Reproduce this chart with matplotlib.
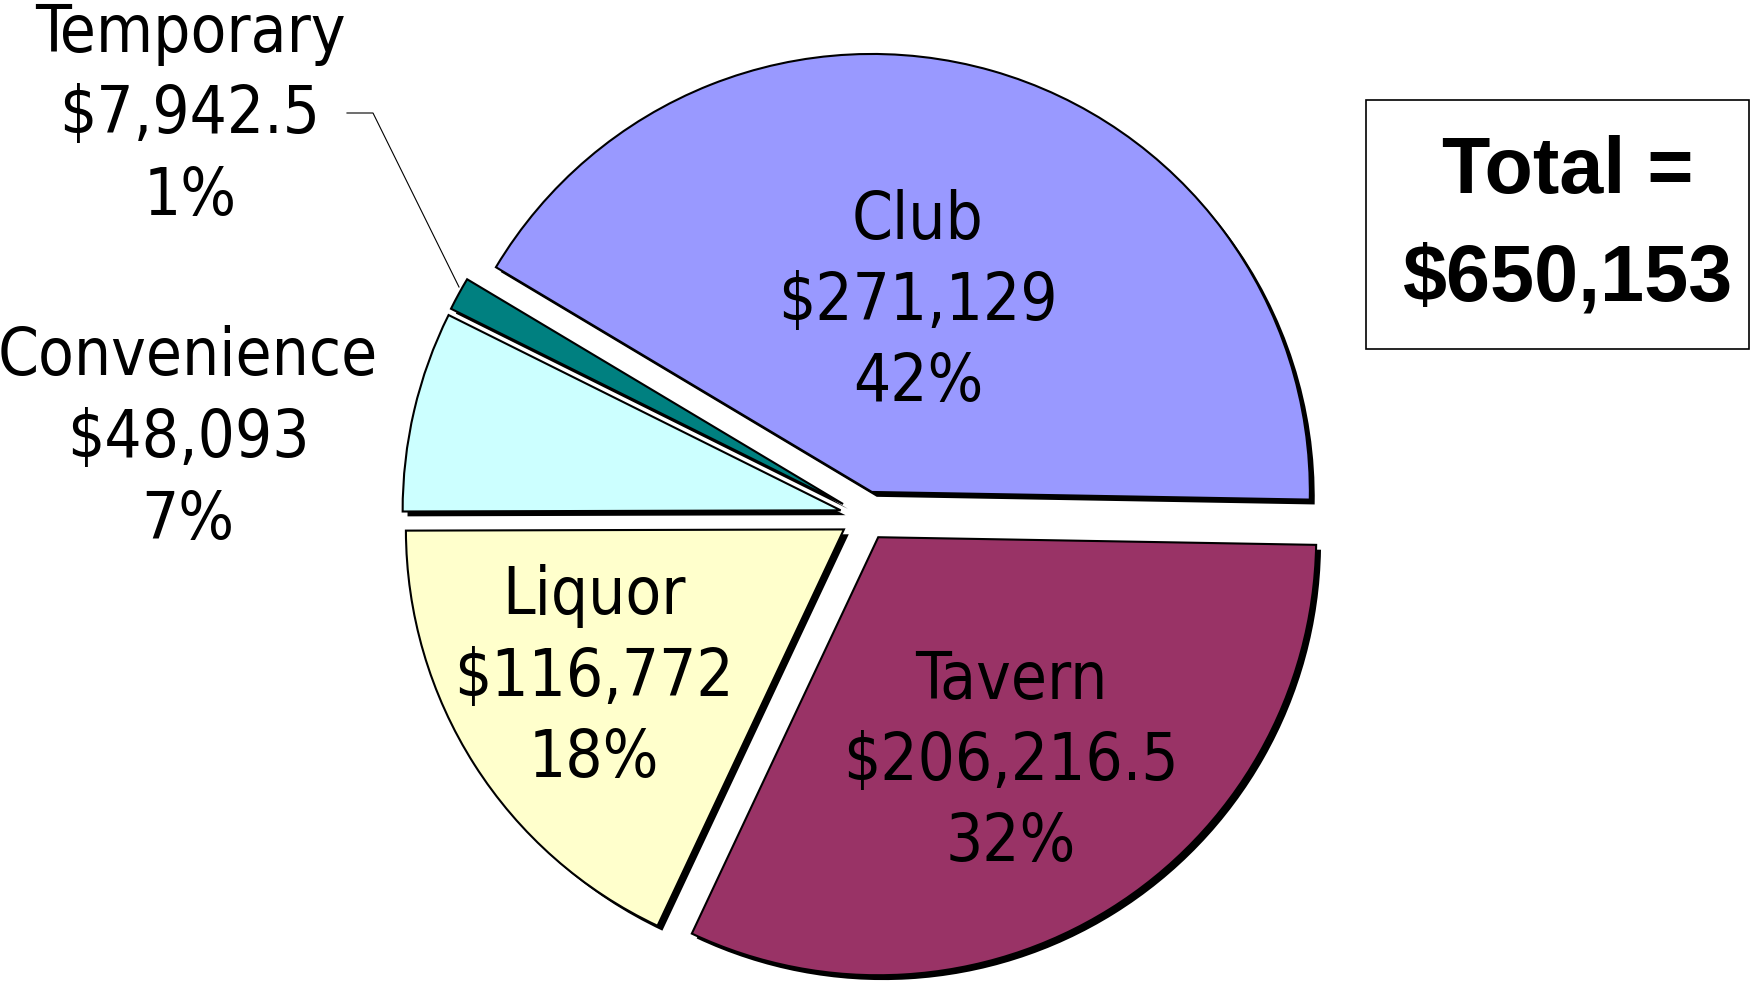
import matplotlib
matplotlib.use("Agg")
import matplotlib.pyplot as plt
import matplotlib.patheffects as pe
from matplotlib.patches import Rectangle
from matplotlib import font_manager as fm

categories = ["Club", "Temporary", "Convenience", "Liquor", "Tavern"]
values = [271129, 7942.5, 48093, 116772, 206216.5]
colors = ["#9999FF", "#008080", "#CCFFFF", "#FFFFCC", "#993366"]

total = sum(values)

def fmt_money(v):
    if float(v).is_integer():
        return "${:,.0f}".format(v)
    return "${:,.1f}".format(v)

# pick a narrow / condensed font if one is installed
def pick_narrow():
    prefs = ["liberationsansnarrow-regular", "arialn", "dejavusanscondensed.",
             "robotocondensed-regular", "opensans_condensed", "opensanscondensed-regular"]
    files = [f.fname for f in fm.fontManager.ttflist]
    for p in prefs:
        for fn in files:
            base = fn.split("/")[-1].lower().replace(" ", "")
            if base.startswith(p):
                return fm.FontProperties(fname=fn), base
    for fn in files:
        base = fn.split("/")[-1].lower()
        if ("narrow" in base or "condensed" in base) and "bold" not in base \
                and "oblique" not in base and "italic" not in base:
            return fm.FontProperties(fname=fn), base
    return fm.FontProperties(family="Liberation Sans"), "liberation"

narrow_fp, narrow_name = pick_narrow()

W, H = 1756, 983
fig = plt.figure(figsize=(W / 100, H / 100), dpi=100)
ax = fig.add_axes([0, 0, 1, 1])

# layout (pixel coordinates, y downward)
center = (865, 516)
radius = 438
explode_px = 25

wedges, _ = ax.pie(values, colors=colors, startangle=1, counterclock=False,
                   radius=radius, center=center, explode=[explode_px] * len(values),
                   wedgeprops=dict(edgecolor="black", linewidth=1.5))
ax.set_xlim(0, W)
ax.set_ylim(H, 0)
ax.axis("off")
for w in wedges:
    w.set_path_effects([pe.SimplePatchShadow(offset=(3.5, -3.5), shadow_rgbFace="black", alpha=1.0),
                        pe.Normal()])

size = 47
spacing = 1.35
if narrow_name == "liberation":
    size = 38
narrow_fp.set_size(size)

label_pos = [(918, 302), (190, 115), (188, 439), (594, 678), (1011, 762)]
for cat, v, (x, y) in zip(categories, values, label_pos):
    pct = round(v / total * 100)
    ax.text(x, y, f"{cat}\n{fmt_money(v)}\n{pct}%", ha="center", va="center",
            fontproperties=narrow_fp, linespacing=spacing, color="black")

# leader line for Temporary
ax.plot([347, 373, 459], [113, 113, 287], color="black", lw=0.8)

# total box
ax.add_patch(Rectangle((1366, 100), 383, 249, fill=False, edgecolor="black", lw=1.2))
ax.text(1568, 173, "Total =", ha="center", va="center", fontsize=57,
        fontweight="bold", family=["Liberation Sans", "DejaVu Sans"])
ax.text(1568, 280, fmt_money(total), ha="center", va="center", fontsize=57,
        fontweight="bold", family=["Liberation Sans", "DejaVu Sans"])

fig.savefig("out.png", dpi=100)
